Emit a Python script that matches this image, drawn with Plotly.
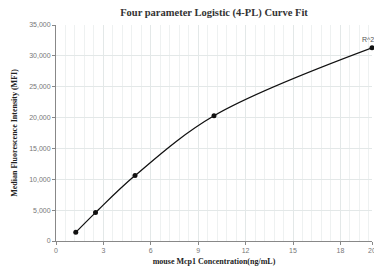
import plotly.graph_objects as go

conc = [1.25, 2.5, 5, 10, 20]
mfi = [1400, 4600, 10600, 20300, 31300]
x_ticks = [0, 3, 6, 9, 12, 15, 18, 20]
y_ticks = [0, 5000, 10000, 15000, 20000, 25000, 30000, 35000]
r2_label = "R^2:"

fig = go.Figure()
fig.add_trace(go.Scatter(
    x=conc, y=mfi, mode="lines+markers",
    line=dict(color="#111111", width=1.3, shape="spline", smoothing=1.0),
    marker=dict(color="#111111", size=5),
    cliponaxis=False, showlegend=False,
))
fig.add_annotation(
    xref="paper", x=1, y=mfi[-1], text=r2_label, showarrow=False,
    xanchor="right", yanchor="bottom", yshift=3, xshift=6,
    font=dict(size=7, color="#555555", family="Liberation Sans"),
)

serif = "Liberation Serif"
fig.update_layout(
    width=374, height=263,
    margin=dict(l=44, r=6, t=17, b=30),
    paper_bgcolor="white", plot_bgcolor="white",
    title=dict(text="<b>Four parameter Logistic (4-PL) Curve Fit</b>",
               x=0.5, xanchor="center", xref="paper", y=0.983, yanchor="middle",
               font=dict(family=serif, size=10.5, color="#333333")),
    xaxis=dict(
        range=[0, 20], tickvals=x_ticks, ticktext=[str(v) for v in x_ticks],
        showgrid=True, gridcolor="#e3e8e8", gridwidth=1,
        minor=dict(dtick=0.6, showgrid=True, gridcolor="#eef1f1", gridwidth=1),
        showline=True, linecolor="#888888", linewidth=1,
        ticks="outside", ticklen=3, tickcolor="#888888",
        tickfont=dict(family="Liberation Sans", size=7, color="#777777"),
        title=dict(text="<b>mouse Mcp1 Concentration(ng/mL)</b>", standoff=4,
                   font=dict(family=serif, size=8, color="#222222")),
        zeroline=False,
    ),
    yaxis=dict(
        range=[0, 35000], tickvals=y_ticks,
        ticktext=[f"{v:,}" for v in y_ticks],
        showgrid=True, gridcolor="#e3e8e8", gridwidth=1,
        showline=True, linecolor="#888888", linewidth=1,
        ticks="outside", ticklen=3, tickcolor="#888888",
        tickfont=dict(family="Liberation Sans", size=7, color="#777777"),
        title=dict(text="<b>Median Fluorescence Intensity (MFI)</b>", standoff=10,
                   font=dict(family=serif, size=8, color="#222222")),
        zeroline=False,
    ),
)
fig.write_html("out.html")
